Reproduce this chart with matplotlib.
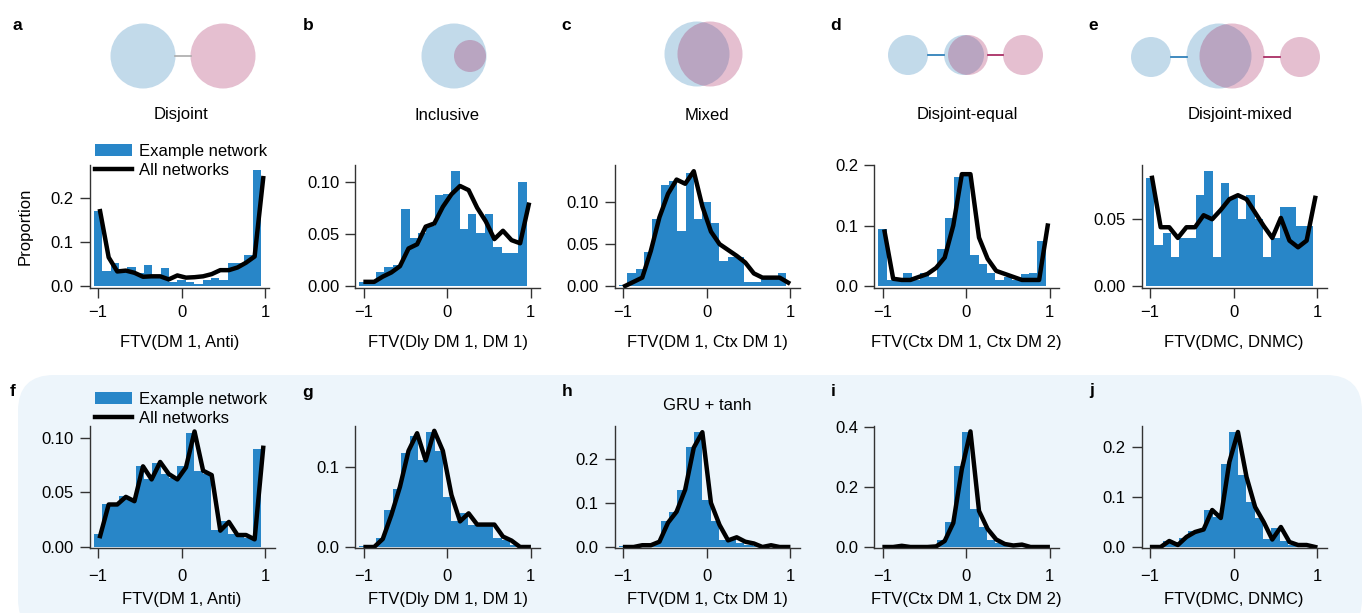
import numpy as np
import matplotlib
matplotlib.use('Agg')
import matplotlib.pyplot as plt
from matplotlib.patches import Circle, FancyBboxPatch

plt.rcParams['font.family'] = ['Liberation Sans', 'DejaVu Sans']

# figure size in pixels (dpi 100)
W, H = 1369, 613

# histogram bins (20 bins over [-1, 1])
bin_x = np.round(np.arange(-1.0, 0.95, 0.1), 2)
line_x = np.linspace(-0.975, 0.975, 20)

# ---- data: example network (bars) / all networks (line)
a_ex = [0.170, 0.034, 0.052, 0.033, 0.044, 0.030, 0.048, 0.025, 0.040, 0.010,
        0.014, 0.010, 0.005, 0.014, 0.019, 0.014, 0.053, 0.053, 0.071, 0.263]
a_all = [0.170, 0.065, 0.033, 0.035, 0.030, 0.021, 0.022, 0.022, 0.015, 0.024,
         0.019, 0.020, 0.022, 0.027, 0.036, 0.036, 0.042, 0.053, 0.067, 0.245]
b_ex = [0.004, 0.004, 0.013, 0.018, 0.020, 0.074, 0.046, 0.051, 0.058, 0.087,
        0.088, 0.110, 0.055, 0.069, 0.051, 0.069, 0.037, 0.032, 0.032, 0.100]
b_all = [0.004, 0.004, 0.009, 0.013, 0.019, 0.036, 0.040, 0.057, 0.060, 0.076,
         0.088, 0.096, 0.092, 0.075, 0.062, 0.045, 0.053, 0.044, 0.041, 0.078]
c_ex = [0.001, 0.015, 0.020, 0.040, 0.080, 0.121, 0.125, 0.066, 0.135, 0.080,
        0.100, 0.075, 0.030, 0.035, 0.035, 0.005, 0.005, 0.010, 0.010, 0.015]
c_all = [0.000, 0.005, 0.010, 0.042, 0.082, 0.110, 0.127, 0.122, 0.137, 0.095,
         0.065, 0.050, 0.043, 0.036, 0.028, 0.015, 0.010, 0.010, 0.010, 0.004]
d_ex = [0.095, 0.010, 0.010, 0.022, 0.010, 0.022, 0.015, 0.062, 0.113, 0.180,
        0.185, 0.052, 0.037, 0.022, 0.010, 0.015, 0.010, 0.020, 0.022, 0.075]
d_all = [0.090, 0.012, 0.010, 0.010, 0.015, 0.020, 0.030, 0.047, 0.100, 0.185,
         0.185, 0.080, 0.045, 0.025, 0.020, 0.015, 0.010, 0.010, 0.010, 0.100]
e_ex = [0.081, 0.031, 0.040, 0.022, 0.036, 0.036, 0.068, 0.086, 0.022, 0.077,
        0.066, 0.050, 0.068, 0.050, 0.022, 0.036, 0.059, 0.059, 0.045, 0.045]
e_all = [0.081, 0.044, 0.044, 0.036, 0.044, 0.044, 0.053, 0.050, 0.057, 0.065,
         0.068, 0.065, 0.055, 0.045, 0.036, 0.051, 0.034, 0.029, 0.034, 0.066]
f_ex = [0.012, 0.039, 0.039, 0.047, 0.043, 0.074, 0.062, 0.077, 0.067, 0.063,
        0.074, 0.105, 0.070, 0.067, 0.016, 0.024, 0.012, 0.012, 0.008, 0.090]
f_all = [0.010, 0.039, 0.039, 0.046, 0.042, 0.074, 0.062, 0.078, 0.067, 0.062,
         0.073, 0.106, 0.070, 0.066, 0.015, 0.023, 0.011, 0.011, 0.007, 0.091]
g_ex = [0.001, 0.001, 0.011, 0.046, 0.073, 0.117, 0.139, 0.108, 0.144, 0.120,
        0.063, 0.032, 0.042, 0.027, 0.027, 0.027, 0.011, 0.009, 0.002, 0.000]
g_all = [0.000, 0.000, 0.010, 0.040, 0.075, 0.120, 0.142, 0.108, 0.145, 0.120,
         0.065, 0.032, 0.042, 0.028, 0.028, 0.028, 0.013, 0.008, 0.000, 0.000]
h_ex = [0.002, 0.002, 0.005, 0.005, 0.008, 0.059, 0.080, 0.129, 0.226, 0.260,
        0.106, 0.059, 0.016, 0.015, 0.008, 0.005, 0.002, 0.002, 0.002, 0.001]
h_all = [0.000, 0.000, 0.004, 0.004, 0.012, 0.055, 0.080, 0.130, 0.225, 0.260,
         0.100, 0.050, 0.015, 0.022, 0.012, 0.008, 0.000, 0.004, 0.000, 0.000]
i_ex = [0.001, 0.001, 0.001, 0.001, 0.002, 0.002, 0.005, 0.023, 0.084, 0.270,
        0.383, 0.126, 0.067, 0.023, 0.012, 0.006, 0.004, 0.004, 0.001, 0.001]
i_all = [0.000, 0.000, 0.004, 0.000, 0.000, 0.000, 0.002, 0.020, 0.080, 0.260,
         0.385, 0.120, 0.060, 0.025, 0.010, 0.005, 0.008, 0.000, 0.000, 0.000]
j_ex = [0.001, 0.004, 0.012, 0.010, 0.019, 0.032, 0.035, 0.074, 0.060, 0.167,
        0.230, 0.144, 0.090, 0.058, 0.016, 0.039, 0.012, 0.005, 0.002, 0.000]
j_all = [0.000, 0.000, 0.012, 0.004, 0.020, 0.030, 0.035, 0.074, 0.058, 0.170,
         0.230, 0.140, 0.080, 0.050, 0.015, 0.040, 0.010, 0.004, 0.004, 0.000]

xlabels = ['FTV(DM 1, Anti)', 'FTV(Dly DM 1, DM 1)', 'FTV(DM 1, Ctx DM 1)',
           'FTV(Ctx DM 1, Ctx DM 2)', 'FTV(DMC, DNMC)']
venn_titles = ['Disjoint', 'Inclusive', 'Mixed', 'Disjoint-equal', 'Disjoint-mixed']
top_letters = ['a', 'b', 'c', 'd', 'e']
bot_letters = ['f', 'g', 'h', 'i', 'j']

top_ex = [a_ex, b_ex, c_ex, d_ex, e_ex]
top_all = [a_all, b_all, c_all, d_all, e_all]
bot_ex = [f_ex, g_ex, h_ex, i_ex, j_ex]
bot_all = [f_all, g_all, h_all, i_all, j_all]

top_ymax = [0.276, 0.1166, 0.145, 0.201, 0.091]
bot_ymax = [0.111, 0.151, 0.274, 0.403, 0.242]
top_yticks = [[0, 0.1, 0.2], [0, 0.05, 0.10], [0, 0.05, 0.10], [0, 0.1, 0.2], [0, 0.05]]
top_yfmt = ['%.1f', '%.2f', '%.2f', '%.1f', '%.2f']
bot_yticks = [[0, 0.05, 0.10], [0, 0.1], [0, 0.1, 0.2], [0, 0.2, 0.4], [0, 0.1, 0.2]]
bot_yfmt = ['%.2f', '%.1f', '%.1f', '%.1f', '%.1f']

BAR_C = '#2886c8'
BLUE = '#1f77b4'
PINK = '#a21c58'

fig = plt.figure(figsize=(W / 100, H / 100), dpi=100)

# background layer in pixel coordinates
bg = fig.add_axes([0, 0, 1, 1], zorder=0)
bg.set_xlim(0, W)
bg.set_ylim(H, 0)
bg.axis('off')
bg.add_patch(FancyBboxPatch((18, 375), 1344, 260,
                            boxstyle='round,pad=0,rounding_size=36',
                            fc='#edf5fb', ec='none'))

# venn-like schematics: (cx, cy, r, colour, alpha)
venn = [
    [(143, 56, 32.5, BLUE, 0.27), (223, 56, 32.5, PINK, 0.28)],
    [(454, 56, 32.5, BLUE, 0.27), (470, 56, 16, PINK, 0.28)],
    [(697, 54, 32.5, BLUE, 0.27), (710, 54, 32.5, PINK, 0.28)],
    [(908, 55, 20, BLUE, 0.27), (964, 55, 20, BLUE, 0.27),
     (968, 55, 20, PINK, 0.28), (1023, 55, 20, PINK, 0.28)],
    [(1151, 57, 20, BLUE, 0.27), (1219, 56, 32.5, BLUE, 0.27),
     (1232, 56, 32.5, PINK, 0.28), (1300, 57, 20, PINK, 0.28)],
]
links = [(175, 191, 56, '#aaaaaa'), (928, 944, 55, BLUE), (988, 1003, 55, PINK),
         (1171, 1187, 57, BLUE), (1264, 1280, 57, PINK)]
for x0, x1, y, c in links:
    bg.plot([x0, x1], [y, y], color=c, lw=1.2)
for group in venn:
    for cx, cy, r, c, al in group:
        bg.add_patch(Circle((cx, cy), r, fc=c, alpha=al, ec='none'))

title_x = [181, 447, 707, 967, 1240]
for tx, t in zip(title_x, venn_titles):
    bg.text(tx, 115, t, ha='center', va='center', fontsize=12)

for (x, y), l in zip([(17, 25), (308, 25), (566, 25), (836, 25), (1093, 25),
                      (13, 391), (308, 392), (567, 391), (833, 391), (1092, 391)],
                     top_letters + bot_letters):
    bg.text(x, y, l, ha='center', va='center', fontsize=12.5, fontweight='bold')

bg.text(707, 406, 'GRU + tanh', ha='center', va='center', fontsize=12)

# panel geometry in pixels
S = 83.65
x_m1 = [98, 363.5, 623, 882.5, 1150]


def make_axes(xm1, top, bottom, xmax):
    left = xm1 - 0.1 * S
    right = xm1 + (1 + xmax) * S
    return fig.add_axes([left / W, 1 - bottom / H, (right - left) / W, (bottom - top) / H],
                        zorder=1)


def style(ax, ymax, yticks, fmt, gap, xmax, xlabel, xpad, lpad):
    ax.set_facecolor('none')
    ax.set_xlim(-1.1, xmax)
    ax.set_ylim(-ymax * gap, ymax)
    ax.set_xticks([-1, 0, 1])
    ax.set_xticklabels(['\u22121', '0', '1'])
    ax.set_yticks(yticks)
    ax.set_yticklabels([fmt % v for v in yticks])
    for s in ['top', 'right']:
        ax.spines[s].set_visible(False)
    for s in ['left', 'bottom']:
        ax.spines[s].set_linewidth(1.0)
        ax.spines[s].set_color('#333333')
    ax.tick_params(length=7.5, width=1.0, color='#333333', labelsize=12)
    ax.tick_params(axis='y', pad=4)
    ax.tick_params(axis='x', pad=xpad)
    ax.set_xlabel(xlabel, fontsize=12, labelpad=lpad)


rows = [(top_ex, top_all, top_ymax, top_yticks, top_yfmt, 164.5, 288, 2 / 121.5, 4.5, 11),
        (bot_ex, bot_all, bot_ymax, bot_yticks, bot_yfmt, 426, 548, 1 / 121, 7.5, 6)]

for r, (exs, alls, ymaxs, ytks, fmts, top, bottom, gap, xpad, lpad) in enumerate(rows):
    for k in range(5):
        xmax = 1.05 if (r == 0 and k == 0) else 1.11
        ax = make_axes(x_m1[k], top, bottom, xmax)
        bars = ax.bar(bin_x, exs[k], width=0.1, color=BAR_C, linewidth=0)
        line, = ax.plot(line_x, alls[k], color='black', lw=3.2)
        style(ax, ymaxs[k], ytks[k], fmts[k], gap, xmax, xlabels[k], xpad, lpad)
        if k == 0:
            ax.legend([bars, line], ['Example network', 'All networks'],
                      loc='upper left', bbox_to_anchor=(0.03, 1.17 if r == 0 else 1.28),
                      frameon=False, fontsize=12, handlelength=2.2,
                      handletextpad=0.45, labelspacing=0.25, borderpad=0,
                      borderaxespad=0)
        if r == 0 and k == 0:
            ax.set_ylabel('Proportion', fontsize=12, labelpad=13)

fig.savefig('out.png', dpi=100)
